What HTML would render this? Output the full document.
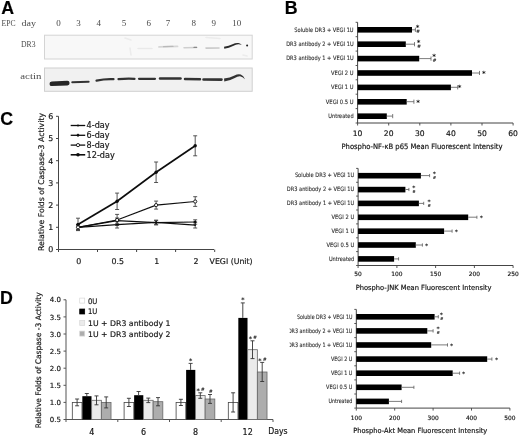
<!DOCTYPE html>
<html><head><meta charset="utf-8"><title>Figure</title>
<style>
html,body{margin:0;padding:0;background:#fff;}
body{width:520px;height:437px;overflow:hidden;}
svg{display:block;}
text{stroke:#222;stroke-width:0.18px;}
text.ns{stroke:none;}
text.ls{stroke:#333;stroke-width:0.1px;}
</style></head><body>
<svg width="520" height="437" viewBox="0 0 520 437">
<defs>
<filter id="bl" x="-5%" y="-50%" width="110%" height="200%"><feGaussianBlur stdDeviation="0.35"/></filter>
<filter id="bl2" x="-5%" y="-50%" width="110%" height="200%"><feGaussianBlur stdDeviation="0.6"/></filter>
<filter id="soft" x="0" y="0" width="100%" height="100%" filterUnits="userSpaceOnUse"><feGaussianBlur stdDeviation="0.3"/></filter>
<clipPath id="c3"><rect x="289.6" y="300" width="80" height="120"/></clipPath>
</defs>
<rect width="520" height="437" fill="#fff"/>
<g filter="url(#soft)">
<text x="1.3" y="14.1" font-family='"Liberation Sans",sans-serif' font-size="17.8" fill="#000" font-weight="bold">A</text>
<text x="284.8" y="14.1" font-family='"Liberation Sans",sans-serif' font-size="17.8" fill="#000" font-weight="bold">B</text>
<text x="0.2" y="124.9" font-family='"Liberation Sans",sans-serif' font-size="17.8" fill="#000" font-weight="bold">C</text>
<text x="-0.1" y="304.1" font-family='"Liberation Sans",sans-serif' font-size="17.8" fill="#000" font-weight="bold">D</text>
<text x="1.5" y="26.0" font-family='"Liberation Serif",serif' font-size="9" textLength="14" lengthAdjust="spacingAndGlyphs" fill="#4a4a4a" class="ns">EPC</text>
<text x="21.5" y="26.0" font-family='"Liberation Serif",serif' font-size="9" textLength="14.5" lengthAdjust="spacingAndGlyphs" fill="#4a4a4a" class="ns">day</text>
<text x="58.6" y="26.0" font-family='"Liberation Serif",serif' font-size="9" text-anchor="middle" fill="#4a4a4a" class="ns">0</text>
<text x="78.5" y="26.0" font-family='"Liberation Serif",serif' font-size="9" text-anchor="middle" fill="#4a4a4a" class="ns">3</text>
<text x="98.8" y="26.0" font-family='"Liberation Serif",serif' font-size="9" text-anchor="middle" fill="#4a4a4a" class="ns">4</text>
<text x="124.0" y="26.0" font-family='"Liberation Serif",serif' font-size="9" text-anchor="middle" fill="#4a4a4a" class="ns">5</text>
<text x="148.7" y="26.0" font-family='"Liberation Serif",serif' font-size="9" text-anchor="middle" fill="#4a4a4a" class="ns">6</text>
<text x="168.0" y="26.0" font-family='"Liberation Serif",serif' font-size="9" text-anchor="middle" fill="#4a4a4a" class="ns">7</text>
<text x="193.7" y="26.0" font-family='"Liberation Serif",serif' font-size="9" text-anchor="middle" fill="#4a4a4a" class="ns">8</text>
<text x="213.7" y="26.0" font-family='"Liberation Serif",serif' font-size="9" text-anchor="middle" fill="#4a4a4a" class="ns">9</text>
<text x="236.7" y="26.0" font-family='"Liberation Serif",serif' font-size="9" text-anchor="middle" fill="#4a4a4a" class="ns">10</text>
<text x="21.0" y="47.3" font-family='"Liberation Serif",serif' font-size="9" textLength="14.5" lengthAdjust="spacingAndGlyphs" fill="#4a4a4a" class="ns">DR3</text>
<text x="20.3" y="78.6" font-family='"Liberation Serif",serif' font-size="9" textLength="21" lengthAdjust="spacingAndGlyphs" fill="#4a4a4a" class="ns">actin</text>
<rect x="44.5" y="35.2" width="207.7" height="23.8" fill="#f8f8f8" stroke="#d4d4d4" stroke-width="1"/>
<rect x="44.5" y="68.0" width="207.7" height="23.3" fill="#f1f1f1" stroke="#d0d0d0" stroke-width="1"/>
<g filter="url(#bl2)" fill="none" stroke-linecap="round">
<path d="M159 46.9 L177.5 46.4" stroke="#d6d6d6" stroke-width="1.8"/>
<path d="M163.5 46.7 L173 46.4" stroke="#b9b9b9" stroke-width="1.2"/>
<path d="M184 47.7 L196.5 47.4" stroke="#cfcfcf" stroke-width="1.5"/>
<path d="M194 47.4 L196.6 47.4" stroke="#8a8a8a" stroke-width="1.3"/>
<path d="M206 48.1 L219 48" stroke="#c9c9c9" stroke-width="1.6"/>
<path d="M138 48.6 L152 48.4" stroke="#e9e9e9" stroke-width="1.5"/>
<path d="M125 38 L131 40 M130 48 L131 55 M206 37.5 L220 38.5 M243 55 L247 56" stroke="#ececec" stroke-width="1.6"/>
</g>
<g filter="url(#bl)">
<path d="M224 46.7 Q229 45.8 232.5 44.2 Q236 42.6 238.5 43.1 Q240.5 43.6 241.8 44.7 Q240 44.4 238.3 44.2 Q236 44.2 233 45.9 Q229 47.9 224.3 48.8 Z" fill="#2b2b2b"/>
<circle cx="247.1" cy="45.5" r="1" fill="#222"/>
</g>
<g fill="none" stroke-linecap="round" filter="url(#bl)">
<path d="M51.8 83.8 L67.3 83.1" stroke="#262626" stroke-width="4.6"/>
<path d="M72.3 82.3 L88.6 81.8" stroke="#333" stroke-width="2.1"/>
<path d="M96.5 80.6 Q105 78.8 113.5 79.2" stroke="#333" stroke-width="2.2"/>
<path d="M118.5 79.2 Q127 78.2 134.5 78.8" stroke="#333" stroke-width="2.2"/>
<path d="M139 78.8 L155 78.8" stroke="#333" stroke-width="2.2"/>
<path d="M160 78.6 L180.5 78.6" stroke="#333" stroke-width="2.5"/>
<path d="M185 79 L200 79.2" stroke="#333" stroke-width="2.5"/>
<path d="M203.5 79.5 L221.5 79.6" stroke="#333" stroke-width="2.6"/>
<path d="M224 78.6 Q230 78 234.5 75.6 Q238 73.7 240.8 74.6 Q243.6 75.8 245 79.2 Q242.6 76.6 240 76.3 Q237.6 76.2 234.8 77.9 Q230 80.6 224.3 81.4 Z" fill="#333" stroke="none"/>
</g>
<line x1="58.5" y1="116.3" x2="58.5" y2="249.5" stroke="#444" stroke-width="1"/>
<line x1="58.5" y1="249.5" x2="214.0" y2="249.5" stroke="#444" stroke-width="1"/>
<line x1="56.0" y1="249.5" x2="58.5" y2="249.5" stroke="#444" stroke-width="1"/>
<text x="53.2" y="252.4" font-family='"DejaVu Sans","Liberation Sans",sans-serif' font-size="7.9" text-anchor="end" fill="#111">0</text>
<line x1="56.0" y1="227.3" x2="58.5" y2="227.3" stroke="#444" stroke-width="1"/>
<text x="53.2" y="230.2" font-family='"DejaVu Sans","Liberation Sans",sans-serif' font-size="7.9" text-anchor="end" fill="#111">1</text>
<line x1="56.0" y1="205.1" x2="58.5" y2="205.1" stroke="#444" stroke-width="1"/>
<text x="53.2" y="208.0" font-family='"DejaVu Sans","Liberation Sans",sans-serif' font-size="7.9" text-anchor="end" fill="#111">2</text>
<line x1="56.0" y1="182.9" x2="58.5" y2="182.9" stroke="#444" stroke-width="1"/>
<text x="53.2" y="185.8" font-family='"DejaVu Sans","Liberation Sans",sans-serif' font-size="7.9" text-anchor="end" fill="#111">3</text>
<line x1="56.0" y1="160.7" x2="58.5" y2="160.7" stroke="#444" stroke-width="1"/>
<text x="53.2" y="163.6" font-family='"DejaVu Sans","Liberation Sans",sans-serif' font-size="7.9" text-anchor="end" fill="#111">4</text>
<line x1="56.0" y1="138.5" x2="58.5" y2="138.5" stroke="#444" stroke-width="1"/>
<text x="53.2" y="141.4" font-family='"DejaVu Sans","Liberation Sans",sans-serif' font-size="7.9" text-anchor="end" fill="#111">5</text>
<line x1="56.0" y1="116.3" x2="58.5" y2="116.3" stroke="#444" stroke-width="1"/>
<text x="53.2" y="119.2" font-family='"DejaVu Sans","Liberation Sans",sans-serif' font-size="7.9" text-anchor="end" fill="#111">6</text>
<line x1="58.5" y1="249.5" x2="58.5" y2="252.0" stroke="#444" stroke-width="1"/>
<line x1="97.5" y1="249.5" x2="97.5" y2="252.0" stroke="#444" stroke-width="1"/>
<line x1="136.6" y1="249.5" x2="136.6" y2="252.0" stroke="#444" stroke-width="1"/>
<line x1="175.6" y1="249.5" x2="175.6" y2="252.0" stroke="#444" stroke-width="1"/>
<line x1="214.7" y1="249.5" x2="214.7" y2="252.0" stroke="#444" stroke-width="1"/>
<text x="78.7" y="264.0" font-family='"DejaVu Sans","Liberation Sans",sans-serif' font-size="7.9" text-anchor="middle" fill="#111">0</text>
<text x="117.8" y="264.0" font-family='"DejaVu Sans","Liberation Sans",sans-serif' font-size="7.9" text-anchor="middle" fill="#111">0.5</text>
<text x="156.8" y="264.0" font-family='"DejaVu Sans","Liberation Sans",sans-serif' font-size="7.9" text-anchor="middle" fill="#111">1</text>
<text x="195.9" y="264.0" font-family='"DejaVu Sans","Liberation Sans",sans-serif' font-size="7.9" text-anchor="middle" fill="#111">2</text>
<text x="209.6" y="264.0" font-family='"DejaVu Sans","Liberation Sans",sans-serif' font-size="7.9" textLength="43" lengthAdjust="spacingAndGlyphs" fill="#111">VEGI (Unit)</text>
<text transform="translate(44.3,182) rotate(-90)" text-anchor="middle" font-family='"DejaVu Sans","Liberation Sans",sans-serif' font-size="7.8" fill="#111" textLength="138" lengthAdjust="spacingAndGlyphs">Relative Folds of Caspase-3 Activity</text>
<line x1="78.0" y1="224.6" x2="78.0" y2="230.0" stroke="#444" stroke-width="0.9"/>
<line x1="76.0" y1="224.6" x2="80.0" y2="224.6" stroke="#444" stroke-width="0.9"/>
<line x1="76.0" y1="230.0" x2="80.0" y2="230.0" stroke="#444" stroke-width="0.9"/>
<line x1="117.1" y1="221.3" x2="117.1" y2="228.0" stroke="#444" stroke-width="0.9"/>
<line x1="115.1" y1="221.3" x2="119.1" y2="221.3" stroke="#444" stroke-width="0.9"/>
<line x1="115.1" y1="228.0" x2="119.1" y2="228.0" stroke="#444" stroke-width="0.9"/>
<line x1="156.1" y1="220.2" x2="156.1" y2="224.6" stroke="#444" stroke-width="0.9"/>
<line x1="154.1" y1="220.2" x2="158.1" y2="220.2" stroke="#444" stroke-width="0.9"/>
<line x1="154.1" y1="224.6" x2="158.1" y2="224.6" stroke="#444" stroke-width="0.9"/>
<line x1="195.2" y1="222.2" x2="195.2" y2="228.0" stroke="#444" stroke-width="0.9"/>
<line x1="193.2" y1="222.2" x2="197.2" y2="222.2" stroke="#444" stroke-width="0.9"/>
<line x1="193.2" y1="228.0" x2="197.2" y2="228.0" stroke="#444" stroke-width="0.9"/>
<line x1="78.0" y1="225.1" x2="78.0" y2="229.5" stroke="#444" stroke-width="0.9"/>
<line x1="76.0" y1="225.1" x2="80.0" y2="225.1" stroke="#444" stroke-width="0.9"/>
<line x1="76.0" y1="229.5" x2="80.0" y2="229.5" stroke="#444" stroke-width="0.9"/>
<line x1="117.1" y1="218.0" x2="117.1" y2="223.3" stroke="#444" stroke-width="0.9"/>
<line x1="115.1" y1="218.0" x2="119.1" y2="218.0" stroke="#444" stroke-width="0.9"/>
<line x1="115.1" y1="223.3" x2="119.1" y2="223.3" stroke="#444" stroke-width="0.9"/>
<line x1="156.1" y1="220.4" x2="156.1" y2="224.9" stroke="#444" stroke-width="0.9"/>
<line x1="154.1" y1="220.4" x2="158.1" y2="220.4" stroke="#444" stroke-width="0.9"/>
<line x1="154.1" y1="224.9" x2="158.1" y2="224.9" stroke="#444" stroke-width="0.9"/>
<line x1="195.2" y1="219.8" x2="195.2" y2="224.2" stroke="#444" stroke-width="0.9"/>
<line x1="193.2" y1="219.8" x2="197.2" y2="219.8" stroke="#444" stroke-width="0.9"/>
<line x1="193.2" y1="224.2" x2="197.2" y2="224.2" stroke="#444" stroke-width="0.9"/>
<line x1="78.0" y1="224.6" x2="78.0" y2="230.0" stroke="#444" stroke-width="0.9"/>
<line x1="76.0" y1="224.6" x2="80.0" y2="224.6" stroke="#444" stroke-width="0.9"/>
<line x1="76.0" y1="230.0" x2="80.0" y2="230.0" stroke="#444" stroke-width="0.9"/>
<line x1="117.1" y1="214.4" x2="117.1" y2="225.5" stroke="#444" stroke-width="0.9"/>
<line x1="115.1" y1="214.4" x2="119.1" y2="214.4" stroke="#444" stroke-width="0.9"/>
<line x1="115.1" y1="225.5" x2="119.1" y2="225.5" stroke="#444" stroke-width="0.9"/>
<line x1="156.1" y1="201.1" x2="156.1" y2="209.1" stroke="#444" stroke-width="0.9"/>
<line x1="154.1" y1="201.1" x2="158.1" y2="201.1" stroke="#444" stroke-width="0.9"/>
<line x1="154.1" y1="209.1" x2="158.1" y2="209.1" stroke="#444" stroke-width="0.9"/>
<line x1="195.2" y1="196.7" x2="195.2" y2="206.4" stroke="#444" stroke-width="0.9"/>
<line x1="193.2" y1="196.7" x2="197.2" y2="196.7" stroke="#444" stroke-width="0.9"/>
<line x1="193.2" y1="206.4" x2="197.2" y2="206.4" stroke="#444" stroke-width="0.9"/>
<line x1="78.0" y1="218.2" x2="78.0" y2="230.6" stroke="#444" stroke-width="0.9"/>
<line x1="76.0" y1="218.2" x2="80.0" y2="218.2" stroke="#444" stroke-width="0.9"/>
<line x1="76.0" y1="230.6" x2="80.0" y2="230.6" stroke="#444" stroke-width="0.9"/>
<line x1="117.1" y1="193.1" x2="117.1" y2="209.5" stroke="#444" stroke-width="0.9"/>
<line x1="115.1" y1="193.1" x2="119.1" y2="193.1" stroke="#444" stroke-width="0.9"/>
<line x1="115.1" y1="209.5" x2="119.1" y2="209.5" stroke="#444" stroke-width="0.9"/>
<line x1="156.1" y1="162.0" x2="156.1" y2="182.5" stroke="#444" stroke-width="0.9"/>
<line x1="154.1" y1="162.0" x2="158.1" y2="162.0" stroke="#444" stroke-width="0.9"/>
<line x1="154.1" y1="182.5" x2="158.1" y2="182.5" stroke="#444" stroke-width="0.9"/>
<line x1="195.2" y1="135.8" x2="195.2" y2="155.8" stroke="#444" stroke-width="0.9"/>
<line x1="193.2" y1="135.8" x2="197.2" y2="135.8" stroke="#444" stroke-width="0.9"/>
<line x1="193.2" y1="155.8" x2="197.2" y2="155.8" stroke="#444" stroke-width="0.9"/>
<polyline points="78.0,227.3 117.1,224.6 156.1,222.4 195.2,225.1" fill="none" stroke="#111" stroke-width="1.2"/>
<circle cx="78.0" cy="227.3" r="0.9" fill="#111"/>
<circle cx="117.1" cy="224.6" r="0.9" fill="#111"/>
<circle cx="156.1" cy="222.4" r="0.9" fill="#111"/>
<circle cx="195.2" cy="225.1" r="0.9" fill="#111"/>
<polyline points="78.0,227.3 117.1,220.6 156.1,222.6 195.2,222.0" fill="none" stroke="#111" stroke-width="1.2"/>
<path d="M76.3 227.3 L78.0 225.6 L79.7 227.3 L78.0 229.0 Z" fill="#111"/>
<path d="M115.4 220.6 L117.1 218.9 L118.8 220.6 L117.1 222.3 Z" fill="#111"/>
<path d="M154.4 222.6 L156.1 220.9 L157.8 222.6 L156.1 224.3 Z" fill="#111"/>
<path d="M193.5 222.0 L195.2 220.3 L196.9 222.0 L195.2 223.7 Z" fill="#111"/>
<polyline points="78.0,227.3 117.1,220.0 156.1,205.1 195.2,201.5" fill="none" stroke="#111" stroke-width="1.2"/>
<circle cx="78.0" cy="227.3" r="1.6" fill="#fff" stroke="#111" stroke-width="0.9"/>
<circle cx="117.1" cy="220.0" r="1.6" fill="#fff" stroke="#111" stroke-width="0.9"/>
<circle cx="156.1" cy="205.1" r="1.6" fill="#fff" stroke="#111" stroke-width="0.9"/>
<circle cx="195.2" cy="201.5" r="1.6" fill="#fff" stroke="#111" stroke-width="0.9"/>
<polyline points="78.0,224.4 117.1,201.3 156.1,172.2 195.2,145.8" fill="none" stroke="#111" stroke-width="1.7"/>
<circle cx="78.0" cy="224.4" r="1.7" fill="#111"/>
<circle cx="117.1" cy="201.3" r="1.7" fill="#111"/>
<circle cx="156.1" cy="172.2" r="1.7" fill="#111"/>
<circle cx="195.2" cy="145.8" r="1.7" fill="#111"/>
<line x1="70.7" y1="125.5" x2="85.2" y2="125.5" stroke="#111" stroke-width="1.3"/>
<circle cx="78" cy="125.5" r="1.0" fill="#111"/>
<text x="86.6" y="128.4" font-family='"DejaVu Sans","Liberation Sans",sans-serif' font-size="8" textLength="23" lengthAdjust="spacingAndGlyphs" fill="#111">4-day</text>
<line x1="70.7" y1="135.3" x2="85.2" y2="135.3" stroke="#111" stroke-width="1.3"/>
<path d="M76.1 135.3 L78 133.5 L79.9 135.3 L78 137.10000000000002 Z" fill="#111"/>
<text x="86.6" y="138.2" font-family='"DejaVu Sans","Liberation Sans",sans-serif' font-size="8" textLength="23" lengthAdjust="spacingAndGlyphs" fill="#111">6-day</text>
<line x1="70.7" y1="145.1" x2="85.2" y2="145.1" stroke="#111" stroke-width="1.3"/>
<circle cx="78" cy="145.1" r="1.6" fill="#fff" stroke="#111" stroke-width="0.9"/>
<text x="86.6" y="148.0" font-family='"DejaVu Sans","Liberation Sans",sans-serif' font-size="8" textLength="23" lengthAdjust="spacingAndGlyphs" fill="#111">8-day</text>
<line x1="70.7" y1="154.8" x2="85.2" y2="154.8" stroke="#111" stroke-width="1.6"/>
<circle cx="78" cy="154.8" r="1.8" fill="#111"/>
<text x="86.6" y="157.7" font-family='"DejaVu Sans","Liberation Sans",sans-serif' font-size="8" textLength="28.2" lengthAdjust="spacingAndGlyphs" fill="#111">12-day</text>
<line x1="66.0" y1="299.8" x2="66.0" y2="419.5" stroke="#555" stroke-width="1"/>
<line x1="66.0" y1="419.5" x2="273.0" y2="419.5" stroke="#555" stroke-width="1"/>
<line x1="63.5" y1="419.5" x2="66.0" y2="419.5" stroke="#555" stroke-width="1"/>
<text x="61.0" y="422.1" font-family='"DejaVu Sans","Liberation Sans",sans-serif' font-size="7" text-anchor="end" fill="#111">0.5</text>
<line x1="63.5" y1="402.4" x2="66.0" y2="402.4" stroke="#555" stroke-width="1"/>
<text x="61.0" y="405.0" font-family='"DejaVu Sans","Liberation Sans",sans-serif' font-size="7" text-anchor="end" fill="#111">1.0</text>
<line x1="63.5" y1="385.3" x2="66.0" y2="385.3" stroke="#555" stroke-width="1"/>
<text x="61.0" y="387.9" font-family='"DejaVu Sans","Liberation Sans",sans-serif' font-size="7" text-anchor="end" fill="#111">1.5</text>
<line x1="63.5" y1="368.2" x2="66.0" y2="368.2" stroke="#555" stroke-width="1"/>
<text x="61.0" y="370.8" font-family='"DejaVu Sans","Liberation Sans",sans-serif' font-size="7" text-anchor="end" fill="#111">2.0</text>
<line x1="63.5" y1="351.1" x2="66.0" y2="351.1" stroke="#555" stroke-width="1"/>
<text x="61.0" y="353.7" font-family='"DejaVu Sans","Liberation Sans",sans-serif' font-size="7" text-anchor="end" fill="#111">2.5</text>
<line x1="63.5" y1="334.0" x2="66.0" y2="334.0" stroke="#555" stroke-width="1"/>
<text x="61.0" y="336.6" font-family='"DejaVu Sans","Liberation Sans",sans-serif' font-size="7" text-anchor="end" fill="#111">3.0</text>
<line x1="63.5" y1="316.9" x2="66.0" y2="316.9" stroke="#555" stroke-width="1"/>
<text x="61.0" y="319.5" font-family='"DejaVu Sans","Liberation Sans",sans-serif' font-size="7" text-anchor="end" fill="#111">3.5</text>
<line x1="63.5" y1="299.8" x2="66.0" y2="299.8" stroke="#555" stroke-width="1"/>
<text x="61.0" y="302.4" font-family='"DejaVu Sans","Liberation Sans",sans-serif' font-size="7" text-anchor="end" fill="#111">4.0</text>
<line x1="66.0" y1="419.5" x2="66.0" y2="422.0" stroke="#555" stroke-width="1"/>
<line x1="117.8" y1="419.5" x2="117.8" y2="422.0" stroke="#555" stroke-width="1"/>
<line x1="169.5" y1="419.5" x2="169.5" y2="422.0" stroke="#555" stroke-width="1"/>
<line x1="221.2" y1="419.5" x2="221.2" y2="422.0" stroke="#555" stroke-width="1"/>
<line x1="273.0" y1="419.5" x2="273.0" y2="422.0" stroke="#555" stroke-width="1"/>
<rect x="72.30" y="402.4" width="9.68" height="17.1" fill="#ffffff" stroke="#444" stroke-width="0.8"/>
<rect x="82.33" y="396.2" width="9.18" height="23.3" fill="#000000"/>
<rect x="91.66" y="400.3" width="9.68" height="19.2" fill="#ebebeb" stroke="#666" stroke-width="0.8"/>
<rect x="101.34" y="402.4" width="9.68" height="17.1" fill="#adadad" stroke="#666" stroke-width="0.8"/>
<line x1="77.1" y1="399.0" x2="77.1" y2="405.8" stroke="#333" stroke-width="0.9"/>
<line x1="75.1" y1="399.0" x2="79.1" y2="399.0" stroke="#333" stroke-width="0.9"/>
<line x1="75.1" y1="405.8" x2="79.1" y2="405.8" stroke="#333" stroke-width="0.9"/>
<line x1="86.8" y1="393.5" x2="86.8" y2="396.2" stroke="#333" stroke-width="0.9"/>
<line x1="84.8" y1="393.5" x2="88.8" y2="393.5" stroke="#333" stroke-width="0.9"/>
<line x1="96.5" y1="395.9" x2="96.5" y2="404.8" stroke="#333" stroke-width="0.9"/>
<line x1="94.5" y1="395.9" x2="98.5" y2="395.9" stroke="#333" stroke-width="0.9"/>
<line x1="94.5" y1="404.8" x2="98.5" y2="404.8" stroke="#333" stroke-width="0.9"/>
<line x1="106.2" y1="396.9" x2="106.2" y2="407.9" stroke="#333" stroke-width="0.9"/>
<line x1="104.2" y1="396.9" x2="108.2" y2="396.9" stroke="#333" stroke-width="0.9"/>
<line x1="104.2" y1="407.9" x2="108.2" y2="407.9" stroke="#333" stroke-width="0.9"/>
<text x="91.7" y="434.7" font-family='"DejaVu Sans","Liberation Sans",sans-serif' font-size="8" text-anchor="middle" fill="#111">4</text>
<rect x="124.10" y="402.4" width="9.68" height="17.1" fill="#ffffff" stroke="#444" stroke-width="0.8"/>
<rect x="134.13" y="395.2" width="9.18" height="24.3" fill="#000000"/>
<rect x="143.46" y="400.3" width="9.68" height="19.2" fill="#ebebeb" stroke="#666" stroke-width="0.8"/>
<rect x="153.14" y="401.7" width="9.68" height="17.8" fill="#adadad" stroke="#666" stroke-width="0.8"/>
<line x1="128.9" y1="398.3" x2="128.9" y2="406.5" stroke="#333" stroke-width="0.9"/>
<line x1="126.9" y1="398.3" x2="130.9" y2="398.3" stroke="#333" stroke-width="0.9"/>
<line x1="126.9" y1="406.5" x2="130.9" y2="406.5" stroke="#333" stroke-width="0.9"/>
<line x1="138.6" y1="391.5" x2="138.6" y2="395.2" stroke="#333" stroke-width="0.9"/>
<line x1="136.6" y1="391.5" x2="140.6" y2="391.5" stroke="#333" stroke-width="0.9"/>
<line x1="148.3" y1="398.1" x2="148.3" y2="402.6" stroke="#333" stroke-width="0.9"/>
<line x1="146.3" y1="398.1" x2="150.3" y2="398.1" stroke="#333" stroke-width="0.9"/>
<line x1="146.3" y1="402.6" x2="150.3" y2="402.6" stroke="#333" stroke-width="0.9"/>
<line x1="158.0" y1="397.6" x2="158.0" y2="405.8" stroke="#333" stroke-width="0.9"/>
<line x1="156.0" y1="397.6" x2="160.0" y2="397.6" stroke="#333" stroke-width="0.9"/>
<line x1="156.0" y1="405.8" x2="160.0" y2="405.8" stroke="#333" stroke-width="0.9"/>
<text x="143.5" y="434.7" font-family='"DejaVu Sans","Liberation Sans",sans-serif' font-size="8" text-anchor="middle" fill="#111">6</text>
<rect x="176.10" y="402.4" width="9.68" height="17.1" fill="#ffffff" stroke="#444" stroke-width="0.8"/>
<rect x="186.13" y="369.9" width="9.18" height="49.6" fill="#000000"/>
<rect x="195.46" y="395.6" width="9.68" height="23.9" fill="#ebebeb" stroke="#666" stroke-width="0.8"/>
<rect x="205.14" y="399.0" width="9.68" height="20.5" fill="#adadad" stroke="#666" stroke-width="0.8"/>
<line x1="180.9" y1="399.3" x2="180.9" y2="405.5" stroke="#333" stroke-width="0.9"/>
<line x1="178.9" y1="399.3" x2="182.9" y2="399.3" stroke="#333" stroke-width="0.9"/>
<line x1="178.9" y1="405.5" x2="182.9" y2="405.5" stroke="#333" stroke-width="0.9"/>
<line x1="190.6" y1="363.4" x2="190.6" y2="369.9" stroke="#333" stroke-width="0.9"/>
<line x1="188.6" y1="363.4" x2="192.6" y2="363.4" stroke="#333" stroke-width="0.9"/>
<text x="190.6" y="362.8" font-family='"DejaVu Sans","Liberation Sans",sans-serif' font-size="6.3" text-anchor="middle" fill="#111" font-weight="bold" class="ns">*</text>
<line x1="200.3" y1="392.8" x2="200.3" y2="398.3" stroke="#333" stroke-width="0.9"/>
<line x1="198.3" y1="392.8" x2="202.3" y2="392.8" stroke="#333" stroke-width="0.9"/>
<line x1="198.3" y1="398.3" x2="202.3" y2="398.3" stroke="#333" stroke-width="0.9"/>
<text x="198.1" y="392.9" font-family='"DejaVu Sans","Liberation Sans",sans-serif' font-size="6.3" text-anchor="middle" fill="#111" font-weight="bold" class="ns">*</text>
<text x="202.5" y="391.2" font-family='"DejaVu Sans","Liberation Sans",sans-serif' font-size="4.8" text-anchor="middle" fill="#111" font-style="italic" font-weight="bold" class="ns">#</text>
<line x1="210.0" y1="394.5" x2="210.0" y2="403.4" stroke="#333" stroke-width="0.9"/>
<line x1="208.0" y1="394.5" x2="212.0" y2="394.5" stroke="#333" stroke-width="0.9"/>
<line x1="208.0" y1="403.4" x2="212.0" y2="403.4" stroke="#333" stroke-width="0.9"/>
<text x="210.5" y="392.9" font-family='"DejaVu Sans","Liberation Sans",sans-serif' font-size="4.8" text-anchor="middle" fill="#111" font-style="italic" font-weight="bold" class="ns">#</text>
<text x="195.5" y="434.7" font-family='"DejaVu Sans","Liberation Sans",sans-serif' font-size="8" text-anchor="middle" fill="#111">8</text>
<rect x="228.30" y="402.4" width="9.68" height="17.1" fill="#ffffff" stroke="#444" stroke-width="0.8"/>
<rect x="238.33" y="317.9" width="9.18" height="101.6" fill="#000000"/>
<rect x="247.66" y="349.7" width="9.68" height="69.8" fill="#ebebeb" stroke="#666" stroke-width="0.8"/>
<rect x="257.34" y="372.0" width="9.68" height="47.5" fill="#adadad" stroke="#666" stroke-width="0.8"/>
<line x1="233.1" y1="392.8" x2="233.1" y2="412.0" stroke="#333" stroke-width="0.9"/>
<line x1="231.1" y1="392.8" x2="235.1" y2="392.8" stroke="#333" stroke-width="0.9"/>
<line x1="231.1" y1="412.0" x2="235.1" y2="412.0" stroke="#333" stroke-width="0.9"/>
<line x1="242.8" y1="302.9" x2="242.8" y2="317.9" stroke="#333" stroke-width="0.9"/>
<line x1="240.8" y1="302.9" x2="244.8" y2="302.9" stroke="#333" stroke-width="0.9"/>
<text x="242.8" y="302.3" font-family='"DejaVu Sans","Liberation Sans",sans-serif' font-size="6.3" text-anchor="middle" fill="#111" font-weight="bold" class="ns">*</text>
<line x1="252.5" y1="340.8" x2="252.5" y2="358.6" stroke="#333" stroke-width="0.9"/>
<line x1="250.5" y1="340.8" x2="254.5" y2="340.8" stroke="#333" stroke-width="0.9"/>
<line x1="250.5" y1="358.6" x2="254.5" y2="358.6" stroke="#333" stroke-width="0.9"/>
<text x="250.3" y="340.9" font-family='"DejaVu Sans","Liberation Sans",sans-serif' font-size="6.3" text-anchor="middle" fill="#111" font-weight="bold" class="ns">*</text>
<text x="254.7" y="339.2" font-family='"DejaVu Sans","Liberation Sans",sans-serif' font-size="4.8" text-anchor="middle" fill="#111" font-style="italic" font-weight="bold" class="ns">#</text>
<line x1="262.2" y1="362.4" x2="262.2" y2="381.5" stroke="#333" stroke-width="0.9"/>
<line x1="260.2" y1="362.4" x2="264.2" y2="362.4" stroke="#333" stroke-width="0.9"/>
<line x1="260.2" y1="381.5" x2="264.2" y2="381.5" stroke="#333" stroke-width="0.9"/>
<text x="260.0" y="362.5" font-family='"DejaVu Sans","Liberation Sans",sans-serif' font-size="6.3" text-anchor="middle" fill="#111" font-weight="bold" class="ns">*</text>
<text x="264.4" y="360.8" font-family='"DejaVu Sans","Liberation Sans",sans-serif' font-size="4.8" text-anchor="middle" fill="#111" font-style="italic" font-weight="bold" class="ns">#</text>
<text x="247.7" y="434.7" font-family='"DejaVu Sans","Liberation Sans",sans-serif' font-size="8" text-anchor="middle" fill="#111">12</text>
<text x="268.2" y="433.9" font-family='"DejaVu Sans","Liberation Sans",sans-serif' font-size="8.1" textLength="19.4" lengthAdjust="spacingAndGlyphs" fill="#111">Days</text>
<text transform="translate(40.8,360.3) rotate(-90)" text-anchor="middle" font-family='"DejaVu Sans","Liberation Sans",sans-serif' font-size="7.6" fill="#111" textLength="136" lengthAdjust="spacingAndGlyphs">Relative Folds of Caspase -3 Activity</text>
<rect x="79.7" y="298.1" width="5.0" height="5.0" fill="#ffffff" stroke="#d8d8d8" stroke-width="0.7"/>
<text x="88.0" y="303.5" font-family='"DejaVu Sans","Liberation Sans",sans-serif' font-size="7.7" textLength="9.4" lengthAdjust="spacingAndGlyphs" fill="#111">0U</text>
<rect x="79.7" y="309.0" width="5.0" height="5.0" fill="#000000" stroke="#000" stroke-width="0.7"/>
<text x="88.0" y="314.4" font-family='"DejaVu Sans","Liberation Sans",sans-serif' font-size="7.7" textLength="9.4" lengthAdjust="spacingAndGlyphs" fill="#111">1U</text>
<rect x="79.7" y="320.5" width="5.0" height="5.0" fill="#ebebeb" stroke="#d8d8d8" stroke-width="0.7"/>
<text x="88.0" y="325.9" font-family='"DejaVu Sans","Liberation Sans",sans-serif' font-size="7.7" textLength="82.4" lengthAdjust="spacingAndGlyphs" fill="#111">1U + DR3 antibody 1</text>
<rect x="79.7" y="331.1" width="5.0" height="5.0" fill="#adadad" stroke="#d8d8d8" stroke-width="0.7"/>
<text x="88.0" y="336.5" font-family='"DejaVu Sans","Liberation Sans",sans-serif' font-size="7.7" textLength="82.4" lengthAdjust="spacingAndGlyphs" fill="#111">1U + DR3 antibody 2</text>
<line x1="357.6" y1="22.3" x2="357.6" y2="123.0" stroke="#444" stroke-width="1"/>
<line x1="357.6" y1="123.0" x2="513.1" y2="123.0" stroke="#444" stroke-width="1"/>
<line x1="355.6" y1="22.3" x2="357.6" y2="22.3" stroke="#444" stroke-width="0.9"/>
<line x1="355.6" y1="36.7" x2="357.6" y2="36.7" stroke="#444" stroke-width="0.9"/>
<line x1="355.6" y1="51.1" x2="357.6" y2="51.1" stroke="#444" stroke-width="0.9"/>
<line x1="355.6" y1="65.5" x2="357.6" y2="65.5" stroke="#444" stroke-width="0.9"/>
<line x1="355.6" y1="79.8" x2="357.6" y2="79.8" stroke="#444" stroke-width="0.9"/>
<line x1="355.6" y1="94.2" x2="357.6" y2="94.2" stroke="#444" stroke-width="0.9"/>
<line x1="355.6" y1="108.6" x2="357.6" y2="108.6" stroke="#444" stroke-width="0.9"/>
<line x1="355.6" y1="123.0" x2="357.6" y2="123.0" stroke="#444" stroke-width="0.9"/>
<line x1="357.6" y1="123.0" x2="357.6" y2="125.5" stroke="#444" stroke-width="0.9"/>
<text x="357.6" y="135.9" font-family='"DejaVu Sans","Liberation Sans",sans-serif' font-size="7.6" text-anchor="middle" fill="#111">10</text>
<line x1="388.7" y1="123.0" x2="388.7" y2="125.5" stroke="#444" stroke-width="0.9"/>
<text x="388.7" y="135.9" font-family='"DejaVu Sans","Liberation Sans",sans-serif' font-size="7.6" text-anchor="middle" fill="#111">20</text>
<line x1="419.8" y1="123.0" x2="419.8" y2="125.5" stroke="#444" stroke-width="0.9"/>
<text x="419.8" y="135.9" font-family='"DejaVu Sans","Liberation Sans",sans-serif' font-size="7.6" text-anchor="middle" fill="#111">30</text>
<line x1="450.9" y1="123.0" x2="450.9" y2="125.5" stroke="#444" stroke-width="0.9"/>
<text x="450.9" y="135.9" font-family='"DejaVu Sans","Liberation Sans",sans-serif' font-size="7.6" text-anchor="middle" fill="#111">40</text>
<line x1="482.0" y1="123.0" x2="482.0" y2="125.5" stroke="#444" stroke-width="0.9"/>
<text x="482.0" y="135.9" font-family='"DejaVu Sans","Liberation Sans",sans-serif' font-size="7.6" text-anchor="middle" fill="#111">50</text>
<line x1="513.1" y1="123.0" x2="513.1" y2="125.5" stroke="#444" stroke-width="0.9"/>
<text x="513.1" y="135.9" font-family='"DejaVu Sans","Liberation Sans",sans-serif' font-size="7.6" text-anchor="middle" fill="#111">60</text>
<text x="341.5" y="149.3" font-family='"DejaVu Sans Condensed","DejaVu Sans","Liberation Sans",sans-serif' font-size="7.5" textLength="161" lengthAdjust="spacingAndGlyphs" fill="#111">Phospho-NF-κB p65 Mean Fluorescent Intensity</text>
<text x="353.6" y="31.6" font-family='"DejaVu Sans Condensed","DejaVu Sans","Liberation Sans",sans-serif' font-size="6" text-anchor="end" textLength="59.3" lengthAdjust="spacingAndGlyphs" fill="#2a2a2a" class="ls">Soluble DR3 + VEGI 1U</text>
<text x="353.6" y="46.0" font-family='"DejaVu Sans Condensed","DejaVu Sans","Liberation Sans",sans-serif' font-size="6" text-anchor="end" textLength="67.4" lengthAdjust="spacingAndGlyphs" fill="#2a2a2a" class="ls">DR3 antibody 2 + VEGI 1U</text>
<text x="353.6" y="60.4" font-family='"DejaVu Sans Condensed","DejaVu Sans","Liberation Sans",sans-serif' font-size="6" text-anchor="end" textLength="67.4" lengthAdjust="spacingAndGlyphs" fill="#2a2a2a" class="ls">DR3 antibody 1 + VEGI 1U</text>
<text x="353.6" y="74.8" font-family='"DejaVu Sans Condensed","DejaVu Sans","Liberation Sans",sans-serif' font-size="6" text-anchor="end" textLength="22.7" lengthAdjust="spacingAndGlyphs" fill="#2a2a2a" class="ls">VEGI 2 U</text>
<text x="353.6" y="89.1" font-family='"DejaVu Sans Condensed","DejaVu Sans","Liberation Sans",sans-serif' font-size="6" text-anchor="end" textLength="22.7" lengthAdjust="spacingAndGlyphs" fill="#2a2a2a" class="ls">VEGI 1 U</text>
<text x="353.6" y="103.5" font-family='"DejaVu Sans Condensed","DejaVu Sans","Liberation Sans",sans-serif' font-size="6" text-anchor="end" textLength="27.8" lengthAdjust="spacingAndGlyphs" fill="#2a2a2a" class="ls">VEGI 0.5 U</text>
<text x="353.6" y="117.9" font-family='"DejaVu Sans Condensed","DejaVu Sans","Liberation Sans",sans-serif' font-size="6" text-anchor="end" textLength="25.3" lengthAdjust="spacingAndGlyphs" fill="#2a2a2a" class="ls">Untreated</text>
<rect x="357.6" y="27.0" width="54.4" height="5.6" fill="#000"/>
<line x1="412.0" y1="29.8" x2="415.4" y2="29.8" stroke="#5a5a5a" stroke-width="0.8"/>
<line x1="415.4" y1="27.7" x2="415.4" y2="31.9" stroke="#5a5a5a" stroke-width="0.8"/>
<text x="417.7" y="30.4" font-family='"DejaVu Sans","Liberation Sans",sans-serif' font-size="7" text-anchor="middle" fill="#111" font-weight="bold" class="ns">*</text>
<text x="417.7" y="33.2" font-family='"DejaVu Sans","Liberation Sans",sans-serif' font-size="4.8" text-anchor="middle" fill="#111" font-style="italic" font-weight="bold" class="ns">#</text>
<rect x="357.6" y="41.4" width="48.2" height="5.6" fill="#000"/>
<line x1="405.8" y1="44.2" x2="414.5" y2="44.2" stroke="#5a5a5a" stroke-width="0.8"/>
<line x1="414.5" y1="42.1" x2="414.5" y2="46.3" stroke="#5a5a5a" stroke-width="0.8"/>
<text x="418.6" y="44.8" font-family='"DejaVu Sans","Liberation Sans",sans-serif' font-size="7" text-anchor="middle" fill="#111" font-weight="bold" class="ns">*</text>
<text x="418.6" y="47.6" font-family='"DejaVu Sans","Liberation Sans",sans-serif' font-size="4.8" text-anchor="middle" fill="#111" font-style="italic" font-weight="bold" class="ns">#</text>
<rect x="357.6" y="55.8" width="61.6" height="5.6" fill="#000"/>
<line x1="419.2" y1="58.6" x2="431.0" y2="58.6" stroke="#5a5a5a" stroke-width="0.8"/>
<line x1="431.0" y1="56.5" x2="431.0" y2="60.7" stroke="#5a5a5a" stroke-width="0.8"/>
<text x="434.2" y="59.2" font-family='"DejaVu Sans","Liberation Sans",sans-serif' font-size="7" text-anchor="middle" fill="#111" font-weight="bold" class="ns">*</text>
<text x="434.2" y="62.0" font-family='"DejaVu Sans","Liberation Sans",sans-serif' font-size="4.8" text-anchor="middle" fill="#111" font-style="italic" font-weight="bold" class="ns">#</text>
<rect x="357.6" y="70.2" width="114.4" height="5.6" fill="#000"/>
<line x1="472.0" y1="73.0" x2="479.5" y2="73.0" stroke="#5a5a5a" stroke-width="0.8"/>
<line x1="479.5" y1="70.9" x2="479.5" y2="75.0" stroke="#5a5a5a" stroke-width="0.8"/>
<text x="483.8" y="76.1" font-family='"DejaVu Sans","Liberation Sans",sans-serif' font-size="7" text-anchor="middle" fill="#111" font-weight="bold" class="ns">*</text>
<rect x="357.6" y="84.6" width="93.3" height="5.6" fill="#000"/>
<line x1="450.9" y1="87.3" x2="457.7" y2="87.3" stroke="#5a5a5a" stroke-width="0.8"/>
<line x1="457.7" y1="85.2" x2="457.7" y2="89.4" stroke="#5a5a5a" stroke-width="0.8"/>
<text x="459.5" y="90.4" font-family='"DejaVu Sans","Liberation Sans",sans-serif' font-size="7" text-anchor="middle" fill="#111" font-weight="bold" class="ns">*</text>
<rect x="357.6" y="99.0" width="49.1" height="5.6" fill="#000"/>
<line x1="406.7" y1="101.7" x2="413.9" y2="101.7" stroke="#5a5a5a" stroke-width="0.8"/>
<line x1="413.9" y1="99.6" x2="413.9" y2="103.8" stroke="#5a5a5a" stroke-width="0.8"/>
<text x="418.0" y="104.8" font-family='"DejaVu Sans","Liberation Sans",sans-serif' font-size="7" text-anchor="middle" fill="#111" font-weight="bold" class="ns">*</text>
<rect x="357.6" y="113.4" width="29.2" height="5.6" fill="#000"/>
<line x1="386.8" y1="116.1" x2="392.7" y2="116.1" stroke="#5a5a5a" stroke-width="0.8"/>
<line x1="392.7" y1="114.0" x2="392.7" y2="118.2" stroke="#5a5a5a" stroke-width="0.8"/>
<line x1="358.1" y1="168.4" x2="358.1" y2="265.5" stroke="#444" stroke-width="1"/>
<line x1="358.1" y1="265.5" x2="513.1" y2="265.5" stroke="#444" stroke-width="1"/>
<line x1="356.1" y1="168.4" x2="358.1" y2="168.4" stroke="#444" stroke-width="0.9"/>
<line x1="356.1" y1="182.3" x2="358.1" y2="182.3" stroke="#444" stroke-width="0.9"/>
<line x1="356.1" y1="196.1" x2="358.1" y2="196.1" stroke="#444" stroke-width="0.9"/>
<line x1="356.1" y1="210.0" x2="358.1" y2="210.0" stroke="#444" stroke-width="0.9"/>
<line x1="356.1" y1="223.9" x2="358.1" y2="223.9" stroke="#444" stroke-width="0.9"/>
<line x1="356.1" y1="237.8" x2="358.1" y2="237.8" stroke="#444" stroke-width="0.9"/>
<line x1="356.1" y1="251.6" x2="358.1" y2="251.6" stroke="#444" stroke-width="0.9"/>
<line x1="356.1" y1="265.5" x2="358.1" y2="265.5" stroke="#444" stroke-width="0.9"/>
<line x1="358.1" y1="265.5" x2="358.1" y2="268.0" stroke="#444" stroke-width="0.9"/>
<text x="358.1" y="276.3" font-family='"DejaVu Sans","Liberation Sans",sans-serif' font-size="5.9" text-anchor="middle" fill="#111">50</text>
<line x1="396.9" y1="265.5" x2="396.9" y2="268.0" stroke="#444" stroke-width="0.9"/>
<text x="396.9" y="276.3" font-family='"DejaVu Sans","Liberation Sans",sans-serif' font-size="5.9" text-anchor="middle" fill="#111">100</text>
<line x1="435.6" y1="265.5" x2="435.6" y2="268.0" stroke="#444" stroke-width="0.9"/>
<text x="435.6" y="276.3" font-family='"DejaVu Sans","Liberation Sans",sans-serif' font-size="5.9" text-anchor="middle" fill="#111">150</text>
<line x1="474.4" y1="265.5" x2="474.4" y2="268.0" stroke="#444" stroke-width="0.9"/>
<text x="474.4" y="276.3" font-family='"DejaVu Sans","Liberation Sans",sans-serif' font-size="5.9" text-anchor="middle" fill="#111">200</text>
<line x1="513.1" y1="265.5" x2="513.1" y2="268.0" stroke="#444" stroke-width="0.9"/>
<text x="513.1" y="276.3" font-family='"DejaVu Sans","Liberation Sans",sans-serif' font-size="5.9" text-anchor="middle" fill="#111">250</text>
<text x="355.7" y="290.0" font-family='"DejaVu Sans Condensed","DejaVu Sans","Liberation Sans",sans-serif' font-size="7.1" textLength="135.7" lengthAdjust="spacingAndGlyphs" fill="#111">Phospho-JNK Mean Fluorescent Intensity</text>
<text x="354.2" y="177.4" font-family='"DejaVu Sans Condensed","DejaVu Sans","Liberation Sans",sans-serif' font-size="6" text-anchor="end" textLength="59.3" lengthAdjust="spacingAndGlyphs" fill="#2a2a2a" class="ls">Soluble DR3 + VEGI 1U</text>
<text x="354.2" y="191.3" font-family='"DejaVu Sans Condensed","DejaVu Sans","Liberation Sans",sans-serif' font-size="6" text-anchor="end" textLength="67.4" lengthAdjust="spacingAndGlyphs" fill="#2a2a2a" class="ls">DR3 antibody 2 + VEGI 1U</text>
<text x="354.2" y="205.2" font-family='"DejaVu Sans Condensed","DejaVu Sans","Liberation Sans",sans-serif' font-size="6" text-anchor="end" textLength="67.4" lengthAdjust="spacingAndGlyphs" fill="#2a2a2a" class="ls">DR3 antibody 1 + VEGI 1U</text>
<text x="354.2" y="219.0" font-family='"DejaVu Sans Condensed","DejaVu Sans","Liberation Sans",sans-serif' font-size="6" text-anchor="end" textLength="22.7" lengthAdjust="spacingAndGlyphs" fill="#2a2a2a" class="ls">VEGI 2 U</text>
<text x="354.2" y="232.9" font-family='"DejaVu Sans Condensed","DejaVu Sans","Liberation Sans",sans-serif' font-size="6" text-anchor="end" textLength="22.7" lengthAdjust="spacingAndGlyphs" fill="#2a2a2a" class="ls">VEGI 1 U</text>
<text x="354.2" y="246.8" font-family='"DejaVu Sans Condensed","DejaVu Sans","Liberation Sans",sans-serif' font-size="6" text-anchor="end" textLength="27.8" lengthAdjust="spacingAndGlyphs" fill="#2a2a2a" class="ls">VEGI 0.5 U</text>
<text x="354.2" y="260.7" font-family='"DejaVu Sans Condensed","DejaVu Sans","Liberation Sans",sans-serif' font-size="6" text-anchor="end" textLength="25.3" lengthAdjust="spacingAndGlyphs" fill="#2a2a2a" class="ls">Untreated</text>
<rect x="358.1" y="172.9" width="62.8" height="5.6" fill="#000"/>
<line x1="420.9" y1="175.6" x2="429.6" y2="175.6" stroke="#5a5a5a" stroke-width="0.8"/>
<line x1="429.6" y1="174.0" x2="429.6" y2="177.2" stroke="#5a5a5a" stroke-width="0.8"/>
<text x="434.2" y="175.9" font-family='"DejaVu Sans","Liberation Sans",sans-serif' font-size="6" text-anchor="middle" fill="#111" font-weight="bold" class="ns">*</text>
<text x="434.2" y="179.0" font-family='"DejaVu Sans","Liberation Sans",sans-serif' font-size="4.114285714285714" text-anchor="middle" fill="#111" font-style="italic" font-weight="bold" class="ns">#</text>
<rect x="358.1" y="186.8" width="47.3" height="5.6" fill="#000"/>
<line x1="405.4" y1="189.5" x2="408.9" y2="189.5" stroke="#5a5a5a" stroke-width="0.8"/>
<line x1="408.9" y1="187.9" x2="408.9" y2="191.1" stroke="#5a5a5a" stroke-width="0.8"/>
<text x="413.7" y="189.8" font-family='"DejaVu Sans","Liberation Sans",sans-serif' font-size="6" text-anchor="middle" fill="#111" font-weight="bold" class="ns">*</text>
<text x="413.7" y="192.9" font-family='"DejaVu Sans","Liberation Sans",sans-serif' font-size="4.114285714285714" text-anchor="middle" fill="#111" font-style="italic" font-weight="bold" class="ns">#</text>
<rect x="358.1" y="200.6" width="60.8" height="5.6" fill="#000"/>
<line x1="418.9" y1="203.4" x2="423.7" y2="203.4" stroke="#5a5a5a" stroke-width="0.8"/>
<line x1="423.7" y1="201.8" x2="423.7" y2="205.0" stroke="#5a5a5a" stroke-width="0.8"/>
<text x="429.0" y="203.6" font-family='"DejaVu Sans","Liberation Sans",sans-serif' font-size="6" text-anchor="middle" fill="#111" font-weight="bold" class="ns">*</text>
<text x="429.0" y="206.8" font-family='"DejaVu Sans","Liberation Sans",sans-serif' font-size="4.114285714285714" text-anchor="middle" fill="#111" font-style="italic" font-weight="bold" class="ns">#</text>
<rect x="358.1" y="214.5" width="110.1" height="5.6" fill="#000"/>
<line x1="468.2" y1="217.2" x2="476.9" y2="217.2" stroke="#5a5a5a" stroke-width="0.8"/>
<line x1="476.9" y1="215.7" x2="476.9" y2="218.8" stroke="#5a5a5a" stroke-width="0.8"/>
<text x="481.2" y="220.0" font-family='"DejaVu Sans","Liberation Sans",sans-serif' font-size="6" text-anchor="middle" fill="#111" font-weight="bold" class="ns">*</text>
<rect x="358.1" y="228.4" width="86.0" height="5.6" fill="#000"/>
<line x1="444.1" y1="231.1" x2="452.1" y2="231.1" stroke="#5a5a5a" stroke-width="0.8"/>
<line x1="452.1" y1="229.5" x2="452.1" y2="232.7" stroke="#5a5a5a" stroke-width="0.8"/>
<text x="456.3" y="233.9" font-family='"DejaVu Sans","Liberation Sans",sans-serif' font-size="6" text-anchor="middle" fill="#111" font-weight="bold" class="ns">*</text>
<rect x="358.1" y="242.2" width="57.7" height="5.6" fill="#000"/>
<line x1="415.8" y1="245.0" x2="422.4" y2="245.0" stroke="#5a5a5a" stroke-width="0.8"/>
<line x1="422.4" y1="243.4" x2="422.4" y2="246.6" stroke="#5a5a5a" stroke-width="0.8"/>
<text x="426.5" y="247.7" font-family='"DejaVu Sans","Liberation Sans",sans-serif' font-size="6" text-anchor="middle" fill="#111" font-weight="bold" class="ns">*</text>
<rect x="358.1" y="256.1" width="36.0" height="5.6" fill="#000"/>
<line x1="394.1" y1="258.9" x2="398.6" y2="258.9" stroke="#5a5a5a" stroke-width="0.8"/>
<line x1="398.6" y1="257.3" x2="398.6" y2="260.5" stroke="#5a5a5a" stroke-width="0.8"/>
<line x1="356.3" y1="309.4" x2="356.3" y2="408.1" stroke="#444" stroke-width="1"/>
<line x1="356.3" y1="408.1" x2="509.9" y2="408.1" stroke="#444" stroke-width="1"/>
<line x1="354.3" y1="309.4" x2="356.3" y2="309.4" stroke="#444" stroke-width="0.9"/>
<line x1="354.3" y1="323.5" x2="356.3" y2="323.5" stroke="#444" stroke-width="0.9"/>
<line x1="354.3" y1="337.6" x2="356.3" y2="337.6" stroke="#444" stroke-width="0.9"/>
<line x1="354.3" y1="351.7" x2="356.3" y2="351.7" stroke="#444" stroke-width="0.9"/>
<line x1="354.3" y1="365.8" x2="356.3" y2="365.8" stroke="#444" stroke-width="0.9"/>
<line x1="354.3" y1="379.9" x2="356.3" y2="379.9" stroke="#444" stroke-width="0.9"/>
<line x1="354.3" y1="394.0" x2="356.3" y2="394.0" stroke="#444" stroke-width="0.9"/>
<line x1="354.3" y1="408.1" x2="356.3" y2="408.1" stroke="#444" stroke-width="0.9"/>
<line x1="356.3" y1="408.1" x2="356.3" y2="410.6" stroke="#444" stroke-width="0.9"/>
<text x="356.3" y="419.7" font-family='"DejaVu Sans","Liberation Sans",sans-serif' font-size="5.9" text-anchor="middle" fill="#111">100</text>
<line x1="394.7" y1="408.1" x2="394.7" y2="410.6" stroke="#444" stroke-width="0.9"/>
<text x="394.7" y="419.7" font-family='"DejaVu Sans","Liberation Sans",sans-serif' font-size="5.9" text-anchor="middle" fill="#111">200</text>
<line x1="433.1" y1="408.1" x2="433.1" y2="410.6" stroke="#444" stroke-width="0.9"/>
<text x="433.1" y="419.7" font-family='"DejaVu Sans","Liberation Sans",sans-serif' font-size="5.9" text-anchor="middle" fill="#111">300</text>
<line x1="471.5" y1="408.1" x2="471.5" y2="410.6" stroke="#444" stroke-width="0.9"/>
<text x="471.5" y="419.7" font-family='"DejaVu Sans","Liberation Sans",sans-serif' font-size="5.9" text-anchor="middle" fill="#111">400</text>
<line x1="509.9" y1="408.1" x2="509.9" y2="410.6" stroke="#444" stroke-width="0.9"/>
<text x="509.9" y="419.7" font-family='"DejaVu Sans","Liberation Sans",sans-serif' font-size="5.9" text-anchor="middle" fill="#111">500</text>
<text x="353.3" y="432.6" font-family='"DejaVu Sans Condensed","DejaVu Sans","Liberation Sans",sans-serif' font-size="7.1" textLength="134" lengthAdjust="spacingAndGlyphs" fill="#111">Phospho-Akt Mean Fluorescent Intensity</text>
<g clip-path="url(#c3)">
<text x="352.4" y="318.6" font-family='"DejaVu Sans Condensed","DejaVu Sans","Liberation Sans",sans-serif' font-size="6" text-anchor="end" textLength="55.3" lengthAdjust="spacingAndGlyphs" fill="#2a2a2a" class="ls">Soluble DR3 + VEGI 1U</text>
<text x="352.4" y="332.7" font-family='"DejaVu Sans Condensed","DejaVu Sans","Liberation Sans",sans-serif' font-size="6" text-anchor="end" textLength="64.5" lengthAdjust="spacingAndGlyphs" fill="#2a2a2a" class="ls">DR3 antibody 2 + VEGI 1U</text>
<text x="352.4" y="346.8" font-family='"DejaVu Sans Condensed","DejaVu Sans","Liberation Sans",sans-serif' font-size="6" text-anchor="end" textLength="64.5" lengthAdjust="spacingAndGlyphs" fill="#2a2a2a" class="ls">DR3 antibody 1 + VEGI 1U</text>
<text x="352.4" y="360.9" font-family='"DejaVu Sans Condensed","DejaVu Sans","Liberation Sans",sans-serif' font-size="6" text-anchor="end" textLength="21.5" lengthAdjust="spacingAndGlyphs" fill="#2a2a2a" class="ls">VEGI 2 U</text>
<text x="352.4" y="375.0" font-family='"DejaVu Sans Condensed","DejaVu Sans","Liberation Sans",sans-serif' font-size="6" text-anchor="end" textLength="21.5" lengthAdjust="spacingAndGlyphs" fill="#2a2a2a" class="ls">VEGI 1 U</text>
<text x="352.4" y="389.1" font-family='"DejaVu Sans Condensed","DejaVu Sans","Liberation Sans",sans-serif' font-size="6" text-anchor="end" textLength="26.3" lengthAdjust="spacingAndGlyphs" fill="#2a2a2a" class="ls">VEGI 0.5 U</text>
<text x="352.4" y="403.2" font-family='"DejaVu Sans Condensed","DejaVu Sans","Liberation Sans",sans-serif' font-size="6" text-anchor="end" textLength="24" lengthAdjust="spacingAndGlyphs" fill="#2a2a2a" class="ls">Untreated</text>
</g>
<rect x="356.3" y="314.0" width="78.3" height="5.6" fill="#000"/>
<line x1="434.6" y1="316.8" x2="438.3" y2="316.8" stroke="#5a5a5a" stroke-width="0.8"/>
<line x1="438.3" y1="315.1" x2="438.3" y2="318.4" stroke="#5a5a5a" stroke-width="0.8"/>
<text x="441.4" y="317.0" font-family='"DejaVu Sans","Liberation Sans",sans-serif' font-size="6" text-anchor="middle" fill="#111" font-weight="bold" class="ns">*</text>
<text x="441.4" y="320.1" font-family='"DejaVu Sans","Liberation Sans",sans-serif' font-size="4.114285714285714" text-anchor="middle" fill="#111" font-style="italic" font-weight="bold" class="ns">#</text>
<rect x="356.3" y="328.1" width="71.0" height="5.6" fill="#000"/>
<line x1="427.3" y1="330.9" x2="433.1" y2="330.9" stroke="#5a5a5a" stroke-width="0.8"/>
<line x1="433.1" y1="329.2" x2="433.1" y2="332.5" stroke="#5a5a5a" stroke-width="0.8"/>
<text x="438.0" y="331.1" font-family='"DejaVu Sans","Liberation Sans",sans-serif' font-size="6" text-anchor="middle" fill="#111" font-weight="bold" class="ns">*</text>
<text x="438.0" y="334.2" font-family='"DejaVu Sans","Liberation Sans",sans-serif' font-size="4.114285714285714" text-anchor="middle" fill="#111" font-style="italic" font-weight="bold" class="ns">#</text>
<rect x="356.3" y="342.2" width="74.9" height="5.6" fill="#000"/>
<line x1="431.2" y1="344.9" x2="447.5" y2="344.9" stroke="#5a5a5a" stroke-width="0.8"/>
<line x1="447.5" y1="343.3" x2="447.5" y2="346.6" stroke="#5a5a5a" stroke-width="0.8"/>
<text x="451.5" y="347.7" font-family='"DejaVu Sans","Liberation Sans",sans-serif' font-size="6" text-anchor="middle" fill="#111" font-weight="bold" class="ns">*</text>
<rect x="356.3" y="356.3" width="130.9" height="5.6" fill="#000"/>
<line x1="487.2" y1="359.1" x2="491.9" y2="359.1" stroke="#5a5a5a" stroke-width="0.8"/>
<line x1="491.9" y1="357.4" x2="491.9" y2="360.7" stroke="#5a5a5a" stroke-width="0.8"/>
<text x="496.5" y="361.8" font-family='"DejaVu Sans","Liberation Sans",sans-serif' font-size="6" text-anchor="middle" fill="#111" font-weight="bold" class="ns">*</text>
<rect x="356.3" y="370.4" width="96.4" height="5.6" fill="#000"/>
<line x1="452.7" y1="373.2" x2="459.6" y2="373.2" stroke="#5a5a5a" stroke-width="0.8"/>
<line x1="459.6" y1="371.6" x2="459.6" y2="374.8" stroke="#5a5a5a" stroke-width="0.8"/>
<text x="463.6" y="375.9" font-family='"DejaVu Sans","Liberation Sans",sans-serif' font-size="6" text-anchor="middle" fill="#111" font-weight="bold" class="ns">*</text>
<rect x="356.3" y="384.5" width="45.3" height="5.6" fill="#000"/>
<line x1="401.6" y1="387.3" x2="413.9" y2="387.3" stroke="#5a5a5a" stroke-width="0.8"/>
<line x1="413.9" y1="385.7" x2="413.9" y2="388.9" stroke="#5a5a5a" stroke-width="0.8"/>
<rect x="356.3" y="398.6" width="32.6" height="5.6" fill="#000"/>
<line x1="388.9" y1="401.4" x2="401.6" y2="401.4" stroke="#5a5a5a" stroke-width="0.8"/>
<line x1="401.6" y1="399.8" x2="401.6" y2="403.0" stroke="#5a5a5a" stroke-width="0.8"/>
</g>
</svg>
</body></html>
